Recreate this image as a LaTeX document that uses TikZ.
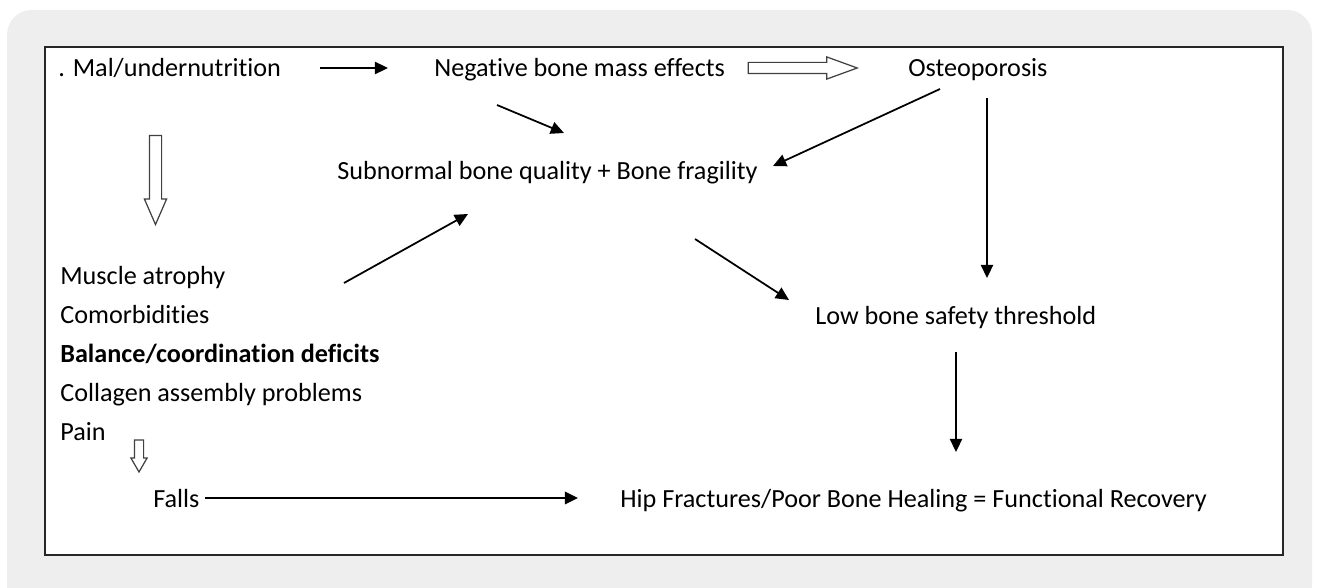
\documentclass[tikz,border=0pt]{standalone}
\usepackage{fontspec}
\setmainfont[Ligatures={NoCommon}]{Carlito}
\usetikzlibrary{arrows.meta,shapes.arrows}
\definecolor{backgray}{HTML}{EEEEEE}
\tikzset{
  lbl/.style={anchor=base west,inner sep=0pt,font=\fontsize{14.9}{18}\selectfont},
  arr/.style={line width=1pt,-{Triangle[length=7.5pt,width=7pt]}},
  hollow/.style={single arrow,draw=black!75,line width=0.7pt,fill=white,inner xsep=0pt,single arrow head indent=0pt}
}
\begin{document}
\begin{tikzpicture}[x=0.02cm,y=-0.02cm]
     \useasboundingbox (0,0) rectangle (1319,588);
     \fill[backgray,rounded corners=14pt] (7,10) rectangle (1312,610);
     \draw[fill=white,line width=0.9pt,draw=black!85] (45,47) rectangle (1283,555);
     % top row
     \node[lbl] (mal) at (58,77) {. Mal/undernutrition};
     \node[lbl] (neg) at (434,77) {Negative bone mass effects};
     \node[lbl] (ost) at (908,77) {Osteoporosis};
     \node[lbl] (sub) at (337,179) {Subnormal bone quality + Bone fragility};
     \node[lbl] (low) at (815,324) {Low bone safety threshold};
     % left list
     \node[lbl] (mus) at (60,284) {Muscle atrophy};
     \node[lbl] (com) at (60,323) {Comorbidities};
     \node[lbl] (bal) at (60,362) {\bfseries Balance/coordination deficits};
     \node[lbl] (col) at (60,401) {Collagen assembly problems};
     \node[lbl] (pain) at (60,440) {Pain};
     \node[lbl] (fal) at (153,507) {Falls};
     \node[lbl] (hip) at (620,507) {Hip Fractures/Poor Bone Healing = Functional Recovery};
     % hollow arrows
     \node[hollow,minimum height=2.18cm,single arrow tip angle=40,inner ysep=0.1cm,single arrow head extend=0.11cm] (h1) at (795,68) {};
     \node[hollow,minimum height=1.78cm,single arrow tip angle=47,rotate=-90,inner ysep=0.11cm,single arrow head extend=0.1cm] (h2) at (155.5,173) {};
     \node[hollow,minimum height=0.64cm,single arrow tip angle=60,rotate=-90,inner ysep=0.08cm,single arrow head extend=0.07cm] (h3) at (139,452) {};
     % arrow ends
     \coordinate (a1) at (320,68);  \coordinate (b1) at (388,68);
     \coordinate (a2) at (497,105); \coordinate (b2) at (564,133);
     \coordinate (a3) at (940,89);  \coordinate (b3) at (773,166);
     \coordinate (a4) at (987,98);  \coordinate (b4) at (987,278);
     \coordinate (a5) at (344,283); \coordinate (b5) at (468,214);
     \coordinate (a6) at (695,239); \coordinate (b6) at (789,300);
     \coordinate (a7) at (956,352); \coordinate (b7) at (956,452);
     \coordinate (a8) at (205,498); \coordinate (b8) at (578,498);
     \draw[arr] (a1) -- (b1);
     \draw[arr] (a2) -- (b2);
     \draw[arr] (a3) -- (b3);
     \draw[arr] (a4) -- (b4);
     \draw[arr] (a5) -- (b5);
     \draw[arr] (a6) -- (b6);
     \draw[arr] (a7) -- (b7);
     \draw[arr,line width=1.3pt] (a8) -- (b8);
\end{tikzpicture}
\end{document}
